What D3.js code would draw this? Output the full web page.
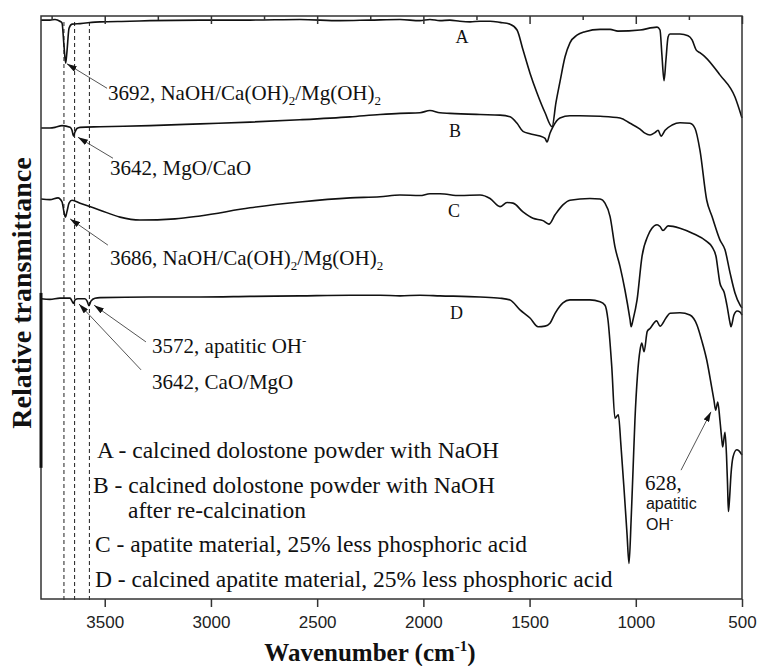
<!DOCTYPE html>
<html>
<head>
<meta charset="utf-8">
<script src="https://cdn.jsdelivr.net/npm/d3@7"></script>
<style>
  html, body { margin: 0; padding: 0; background: #fff; }
  svg { display: block; }
</style>
</head>
<body>
<svg id="chart" width="757" height="666"></svg>
<script>
// ---------------- DATA (wavenumber cm-1, relative transmittance, arbitrary units) ----------------
const seriesNames = ["A", "B", "C", "D"];

const seriesA = [
  [3800,99.3],[3758,99.3],[3734,99.4],[3711,99.1],[3701,98.8],[3692,95.0],[3684,91.9],[3678,93.8],
  [3668,97.9],[3654,98.6],[3616,98.7],[3522,99.0],[3381,99.1],[3287,99.2],[3051,99.3],[2816,99.3],
  [2581,99.4],[2392,99.2],[2251,99.3],[2110,99.4],[2016,99.2],[1969,99.4],[1922,99.2],[1875,99.3],
  [1828,99.1],[1780,99.0],[1733,99.1],[1686,99.1],[1639,98.9],[1592,98.6],[1559,97.6],[1531,94.2],
  [1498,90.2],[1465,86.8],[1427,83.4],[1394,81.0],[1376,85.1],[1357,88.7],[1333,93.0],[1310,95.4],
  [1277,96.7],[1239,97.3],[1168,97.7],[1121,97.7],[1084,97.4],[980,97.6],[900,98.1],[886,97.6],
  [877,93.3],[867,88.9],[858,92.5],[848,96.4],[839,96.9],[792,96.9],[754,96.6],[735,95.9],
  [716,94.2],[698,93.7],[674,93.0],[604,89.9],[533,86.1],[500,82.5]
];

const seriesB = [
  [3800,80.8],[3758,80.8],[3734,80.9],[3701,81.2],[3663,80.9],[3654,80.4],[3647,79.4],[3640,80.1],
  [3631,80.7],[3616,80.9],[3522,81.0],[3287,81.2],[3051,81.5],[2816,81.8],[2581,82.2],[2345,82.7],
  [2204,83.1],[2110,83.3],[2016,83.4],[1969,83.8],[1922,83.4],[1875,83.3],[1733,83.1],[1639,83.0],
  [1592,82.7],[1559,81.6],[1531,80.2],[1498,79.8],[1451,79.4],[1427,79.0],[1418,78.4],[1404,79.9],
  [1390,81.0],[1357,82.5],[1310,82.9],[1263,82.9],[1168,82.8],[1074,82.5],[1027,81.6],[980,80.6],
  [957,79.9],[933,79.6],[910,80.0],[895,80.4],[881,79.4],[862,80.4],[829,81.3],[792,81.7],
  [745,81.6],[721,80.7],[698,77.0],[666,68.4],[641,65.6],[604,61.6],[580,59.9],[556,55.9],
  [533,52.5],[509,50.4],[500,49.9]
];

const seriesC = [
  [3800,68.6],[3758,68.5],[3720,68.8],[3701,68.1],[3692,66.4],[3685,65.5],[3678,66.4],[3668,67.9],
  [3654,68.4],[3616,67.9],[3522,66.7],[3428,65.5],[3334,65.0],[3169,65.2],[3051,65.7],[2816,67.1],
  [2581,68.1],[2345,68.8],[2204,69.0],[2110,69.3],[2016,69.2],[1969,69.5],[1922,69.5],[1828,69.2],
  [1733,69.3],[1686,68.7],[1639,67.3],[1606,68.0],[1578,67.9],[1531,66.4],[1484,65.3],[1437,64.9],
  [1409,64.3],[1380,65.9],[1343,67.6],[1310,68.4],[1216,68.7],[1168,68.6],[1145,67.9],[1121,65.6],
  [1098,60.4],[1074,57.0],[1051,53.0],[1027,47.9],[1022,46.7],[1013,47.9],[994,51.3],[971,58.7],
  [942,62.4],[924,63.6],[900,64.2],[886,63.9],[872,63.2],[848,64.0],[792,63.6],[731,62.7],
  [665,61.3],[641,60.4],[622,58.7],[613,56.4],[604,54.2],[594,53.3],[585,52.7],[571,50.4],
  [556,47.3],[552,46.7],[538,48.7],[523,49.4],[509,49.2],[500,48.7]
];

const seriesD = [
  [3800,51.5],[3758,51.4],[3711,51.6],[3663,51.6],[3654,51.1],[3647,50.7],[3640,51.3],[3626,51.5],
  [3593,51.5],[3583,51.1],[3574,50.3],[3565,51.1],[3546,51.6],[3522,51.7],[3287,51.8],[3051,51.8],
  [2816,51.9],[2581,52.0],[2345,52.1],[2204,52.1],[2110,52.0],[2016,52.1],[1922,52.0],[1733,51.8],
  [1639,51.6],[1592,51.3],[1545,49.6],[1498,48.2],[1460,46.7],[1427,46.8],[1404,47.3],[1380,49.0],
  [1343,50.8],[1310,51.3],[1216,51.3],[1168,51.0],[1145,50.4],[1131,47.9],[1113,39.8],[1098,31.0],
  [1082,31.6],[1070,26.4],[1055,18.7],[1041,11.0],[1032,6.1],[1022,13.5],[1013,22.1],[1004,30.7],
  [992,38.4],[980,42.7],[972,43.9],[961,42.4],[946,45.9],[933,46.4],[902,47.7],[886,46.8],
  [858,48.2],[839,49.0],[792,49.1],[745,48.7],[712,47.0],[690,44.4],[666,41.0],[643,36.4],
  [632,34.1],[624,32.4],[614,33.8],[604,30.7],[595,27.3],[591,26.1],[580,28.6],[573,24.7],
  [568,19.6],[564,15.0],[559,17.0],[552,21.3],[542,24.4],[525,25.6],[514,25.4],[500,24.7]
];

const seriesLabels = [
  ["A", 1818, 95.4], ["B", 1851, 79.3], ["C", 1856, 65.6], ["D", 1844, 48.1]
];

const markerLines = [3692, 3642, 3572];

const majorTicks = [3500, 3000, 2500, 2000, 1500, 1000, 500];
const minorTicks = [3750, 3250, 2750, 2250, 1750, 1250, 750];

// annotations: text parts, text anchor [wn, v], arrow from [wn, v] to [wn, v]
const annotations = [
  { parts: [["3692, NaOH/Ca(OH)"], ["2", "sub"], ["/Mg(OH)"], ["2", "sub"]], at: [3485, 85.6], from: [3489, 87.6], to: [3678, 91.8] },
  { parts: [["3642, MgO/CaO"]], at: [3475, 72.7], from: [3461, 75.6], to: [3626, 79.2] },
  { parts: [["3686, NaOH/Ca(OH)"], ["2", "sub"], ["/Mg(OH)"], ["2", "sub"]], at: [3475, 57.3], from: [3485, 60.7], to: [3663, 65.2] },
  { parts: [["3572, apatitic OH"], ["-", "sup"]], at: [3277, 42.2], from: [3306, 44.1], to: [3550, 50.4] },
  { parts: [["3642, CaO/MgO"]], at: [3277, 36.0], from: [3329, 39.3], to: [3621, 50.6] }
];

const legendLines = [
  "A - calcined dolostone powder with NaOH",
  "B - calcined dolostone powder with NaOH",
  "after re-calcination",
  "C - apatite material, 25% less phosphoric acid",
  "D - calcined apatite material, 25% less phosphoric acid"
];

// ---------------- LAYOUT ----------------
const W = 757, H = 666;
const plot = { left: 41, right: 742, top: 16, bottom: 599 };
const serif = "'Liberation Serif', 'Times New Roman', Times, serif";
const sans = "'Liberation Sans', Arial, Helvetica, sans-serif";

const svg = d3.select("#chart");

const x = d3.scaleLinear().domain([3800, 500]).range([plot.left, plot.right]);
const y = d3.scaleLinear().domain([0, 100]).range([plot.bottom, plot.top]);

// defs: arrowhead
svg.append("defs").append("marker")
  .attr("id", "arrow")
  .attr("viewBox", "0 0 10 6")
  .attr("refX", 10).attr("refY", 3)
  .attr("markerWidth", 10).attr("markerHeight", 6)
  .attr("markerUnits", "userSpaceOnUse")
  .attr("orient", "auto")
  .append("path").attr("d", "M0,0 L10,3 L0,6 Z").attr("fill", "#111");

// dashed marker lines
svg.append("g").selectAll("line").data(markerLines).join("line")
  .attr("x1", d => x(d)).attr("x2", d => x(d))
  .attr("y1", plot.top + 6).attr("y2", plot.bottom + 3)
  .attr("stroke", "#333").attr("stroke-width", 1.1)
  .attr("stroke-dasharray", "4,3");

// spectra
const line = d3.line().x(d => x(d[0])).y(d => y(d[1])).curve(d3.curveMonotoneX);
const allSeries = [seriesA, seriesB, seriesC, seriesD];
svg.append("g").selectAll("path").data(allSeries).join("path")
  .attr("d", line)
  .attr("fill", "none")
  .attr("stroke", "#111")
  .attr("stroke-width", 1.6)
  .attr("stroke-linejoin", "round");

// frame
svg.append("rect")
  .attr("x", plot.left).attr("y", plot.top)
  .attr("width", plot.right - plot.left).attr("height", plot.bottom - plot.top)
  .attr("fill", "none").attr("stroke", "#333").attr("stroke-width", 1.5);

// thicker segment on left border (as in the scanned figure)
svg.append("line")
  .attr("x1", plot.left).attr("x2", plot.left)
  .attr("y1", y(52.5)).attr("y2", y(22.5))
  .attr("stroke", "#111").attr("stroke-width", 3);

// bottom axis
const xAxis = d3.axisBottom(x).tickValues(majorTicks).tickSize(8).tickSizeOuter(0).tickFormat(d3.format("d"));
const gx = svg.append("g").attr("transform", `translate(0,${plot.bottom})`).call(xAxis);
gx.select(".domain").remove();
gx.selectAll(".tick line").attr("stroke", "#333").attr("stroke-width", 1.5);
gx.selectAll(".tick text")
  .attr("font-family", sans).attr("font-size", 17).attr("fill", "#222")
  .attr("dy", "1.05em");

// top axis major (inward) and minor
const gtop = svg.append("g").attr("transform", `translate(0,${plot.top})`)
  .call(d3.axisTop(x).tickValues(majorTicks).tickSize(-8).tickSizeOuter(0).tickFormat(""));
gtop.select(".domain").remove();
gtop.selectAll(".tick line").attr("stroke", "#333").attr("stroke-width", 1.5);
const gtop2 = svg.append("g").attr("transform", `translate(0,${plot.top})`)
  .call(d3.axisTop(x).tickValues(minorTicks).tickSize(-4).tickSizeOuter(0).tickFormat(""));
gtop2.select(".domain").remove();
gtop2.selectAll(".tick line").attr("stroke", "#333").attr("stroke-width", 1.5);

// series letters
svg.append("g").selectAll("text").data(seriesLabels).join("text")
  .attr("x", d => x(d[1])).attr("y", d => y(d[2]))
  .attr("text-anchor", "middle")
  .attr("font-family", serif).attr("font-size", 18).attr("fill", "#111")
  .text(d => d[0]);

// annotations
const ga = svg.append("g");
annotations.forEach(a => {
  ga.append("line")
    .attr("x1", x(a.from[0])).attr("y1", y(a.from[1]))
    .attr("x2", x(a.to[0])).attr("y2", y(a.to[1]))
    .attr("stroke", "#555").attr("stroke-width", 1)
    .attr("marker-end", "url(#arrow)");
  const t = ga.append("text")
    .attr("x", x(a.at[0])).attr("y", y(a.at[1]))
    .attr("font-family", serif).attr("font-size", 21).attr("fill", "#111");
  let shift = 0;
  a.parts.forEach(p => {
    const ts = t.append("tspan").text(p[0]);
    if (p[1] === "sub") { ts.attr("font-size", 13).attr("dy", 5 - shift); shift = 5; }
    else if (p[1] === "sup") { ts.attr("font-size", 13).attr("dy", -8 - shift); shift = -8; }
    else if (shift !== 0) { ts.attr("dy", -shift); shift = 0; }
  });
});

// 628 annotation
ga.append("line")
  .attr("x1", x(787)).attr("y1", y(22.1))
  .attr("x2", x(646)).attr("y2", y(32.1))
  .attr("stroke", "#555").attr("stroke-width", 1)
  .attr("marker-end", "url(#arrow)");
ga.append("text").attr("x", x(957)).attr("y", y(18.7))
  .attr("font-family", serif).attr("font-size", 21).attr("fill", "#111").text("628,");
ga.append("text").attr("x", x(952)).attr("y", y(15.4))
  .attr("font-family", sans).attr("font-size", 16).attr("fill", "#111").text("apatitic");
const oh = ga.append("text").attr("x", x(952)).attr("y", y(11.8))
  .attr("font-family", sans).attr("font-size", 16).attr("fill", "#111");
oh.append("tspan").text("OH");
oh.append("tspan").attr("font-size", 10).attr("dy", -7).text("-");

// legend block
const legendPos = [[97, 458], [93, 493], [128, 518], [95, 552], [95, 587]];
svg.append("g").selectAll("text").data(legendLines).join("text")
  .attr("x", (d, i) => legendPos[i][0]).attr("y", (d, i) => legendPos[i][1])
  .attr("font-family", serif).attr("font-size", 23.5).attr("fill", "#111")
  .text(d => d);

// axis titles
const xt = svg.append("text")
  .attr("x", 370).attr("y", 661).attr("text-anchor", "middle")
  .attr("font-family", serif).attr("font-weight", "bold").attr("font-size", 25).attr("fill", "#111");
xt.append("tspan").text("Wavenumber (cm");
xt.append("tspan").attr("font-size", 15).attr("dy", -10).text("-1");
xt.append("tspan").attr("dy", 10).text(")");

svg.append("text")
  .attr("transform", `translate(31,293) rotate(-90)`)
  .attr("text-anchor", "middle")
  .attr("font-family", serif).attr("font-weight", "bold").attr("font-size", 28).attr("fill", "#111")
  .text("Relative transmittance");
</script>
</body>
</html>
